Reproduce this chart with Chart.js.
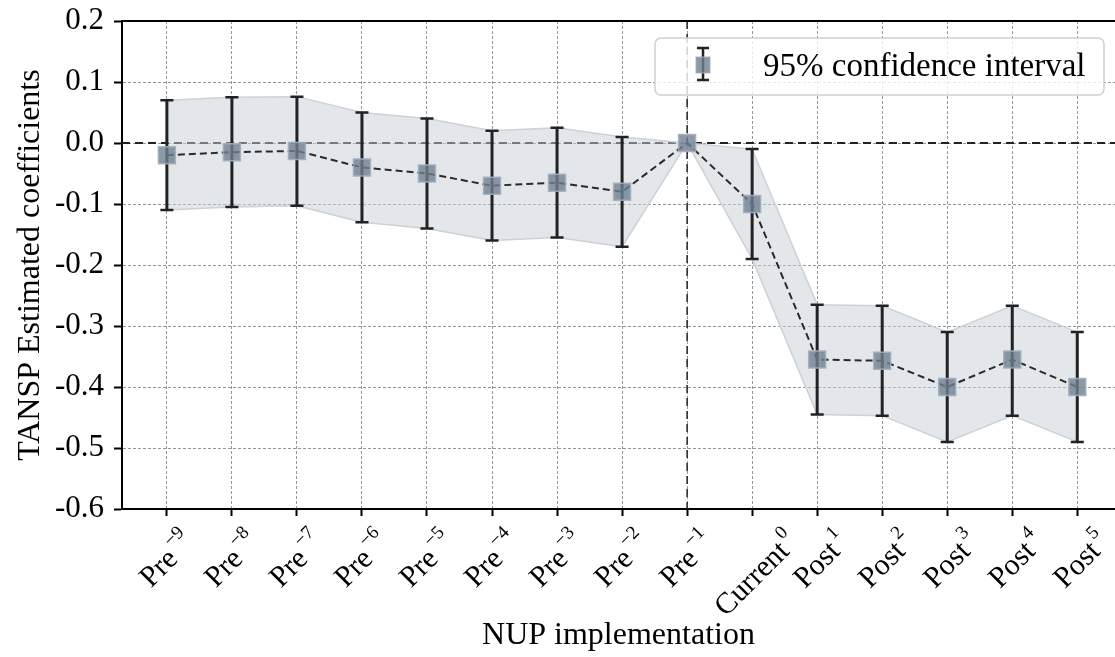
<!DOCTYPE html>
<html>
<head>
<meta charset="utf-8">
<script src="https://cdn.jsdelivr.net/npm/chart.js@4"></script>
<style>
  body { margin: 0; background: #fff; }
  #wrap { width: 1115px; height: 657px; position: relative; }
</style>
</head>
<body>
<div id="wrap"><canvas id="chart"></canvas></div>
<script>
// category labels (main text + superscript)
const labelMain = ['Pre', 'Pre', 'Pre', 'Pre', 'Pre', 'Pre', 'Pre', 'Pre', 'Pre', 'Current', 'Post', 'Post', 'Post', 'Post', 'Post'];
const labelSup = ['\u22129', '\u22128', '\u22127', '\u22126', '\u22125', '\u22124', '\u22123', '\u22122', '\u22121', '0', '1', '2', '3', '4', '5'];

// estimated coefficients and 95% CI bounds
const coef = [-0.020, -0.015, -0.013, -0.040, -0.050, -0.070, -0.065, -0.080, 0.000, -0.100, -0.355, -0.357, -0.400, -0.355, -0.400];
const ciUpper = [0.070, 0.075, 0.076, 0.050, 0.040, 0.020, 0.025, 0.010, 0.000, -0.010, -0.265, -0.267, -0.310, -0.267, -0.310];
const ciLower = [-0.110, -0.105, -0.103, -0.130, -0.140, -0.160, -0.155, -0.170, 0.000, -0.190, -0.445, -0.447, -0.490, -0.447, -0.490];

const yTicks = [-0.6, -0.5, -0.4, -0.3, -0.2, -0.1, 0.0, 0.1, 0.2];
const refIndex = 8; // Pre -1, the vertical reference line
const legendText = '95% confidence interval';

const FONT = '"Liberation Serif", "Times New Roman", serif';

const pts = arr => arr.map((v, i) => ({ x: i, y: v }));

// error bars drawn just before the mean line so markers sit on top
const errorBars = {
  id: 'errorBars',
  beforeDatasetDraw(chart, args) {
    if (args.index !== 2) return;
    const ctx = chart.ctx, xs = chart.scales.x, ys = chart.scales.y;
    ctx.save();
    ctx.strokeStyle = '#222';
    coef.forEach((c, i) => {
      if (ciUpper[i] === ciLower[i]) return;
      const x = xs.getPixelForValue(i);
      const y1 = ys.getPixelForValue(ciUpper[i]);
      const y2 = ys.getPixelForValue(ciLower[i]);
      ctx.lineWidth = 3;
      ctx.beginPath(); ctx.moveTo(x, y1); ctx.lineTo(x, y2); ctx.stroke();
      ctx.lineWidth = 2.5;
      ctx.beginPath();
      ctx.moveTo(x - 6.5, y1); ctx.lineTo(x + 6.5, y1);
      ctx.moveTo(x - 6.5, y2); ctx.lineTo(x + 6.5, y2);
      ctx.stroke();
    });
    ctx.restore();
  }
};

// zero line, event line, top spine
const refLines = {
  id: 'refLines',
  beforeDatasetsDraw(chart) {
    const ctx = chart.ctx, a = chart.chartArea;
    const y0 = chart.scales.y.getPixelForValue(0);
    const xr = chart.scales.x.getPixelForValue(refIndex);
    ctx.save();
    ctx.strokeStyle = '#222';
    ctx.lineWidth = 1.8;
    ctx.setLineDash([8, 5]);
    ctx.beginPath(); ctx.moveTo(a.left, y0); ctx.lineTo(a.right, y0); ctx.stroke();
    ctx.lineWidth = 1.5;
    ctx.beginPath(); ctx.moveTo(xr, a.top); ctx.lineTo(xr, a.bottom); ctx.stroke();
    ctx.setLineDash([]);
    ctx.strokeStyle = '#000';
    ctx.lineWidth = 2;
    ctx.beginPath(); ctx.moveTo(a.left, a.top); ctx.lineTo(a.right, a.top); ctx.stroke();
    ctx.restore();
  }
};

// rotated tick labels with superscripts + legend box
const extras = {
  id: 'extras',
  afterDraw(chart) {
    const ctx = chart.ctx, xs = chart.scales.x, a = chart.chartArea;
    const c = Math.SQRT1_2;
    ctx.save();
    ctx.fillStyle = '#000';
    labelMain.forEach((m, i) => {
      const sup = labelSup[i];
      ctx.font = '30px ' + FONT;
      const wm = ctx.measureText(m).width;
      ctx.font = '19px ' + FONT;
      const ws = ctx.measureText(sup).width;
      const g = 3, r = 15, hm = 20, hs = 13;
      const corners = [[0, 0], [0, -hm], [wm, 0], [wm, -hm],
        [wm + g, -r], [wm + g, -r - hs], [wm + g + ws, -r], [wm + g + ws, -r - hs]];
      let minX = Infinity, maxX = -Infinity, minY = Infinity;
      corners.forEach(([x, y]) => {
        const X = c * x + c * y, Y = -c * x + c * y;
        minX = Math.min(minX, X); maxX = Math.max(maxX, X); minY = Math.min(minY, Y);
      });
      const tx = xs.getPixelForValue(i);
      const dx = sup[0] === '\u2212' ? -6 : -1;
      const ox = tx + dx - (minX + maxX) / 2;
      const oy = a.bottom + 15 - minY;
      ctx.save();
      ctx.translate(ox, oy);
      ctx.rotate(-Math.PI / 4);
      ctx.textAlign = 'left';
      ctx.textBaseline = 'alphabetic';
      ctx.font = '30px ' + FONT;
      ctx.fillText(m, 0, 0);
      ctx.font = '19px ' + FONT;
      ctx.fillText(sup, wm + g, -r);
      ctx.restore();
    });

    // legend
    const lx = 655, ly = 38, lw = 449, lh = 57;
    ctx.beginPath();
    ctx.roundRect(lx, ly, lw, lh, 6);
    ctx.fillStyle = 'rgba(255,255,255,0.8)';
    ctx.fill();
    ctx.strokeStyle = '#cfcfcf';
    ctx.lineWidth = 1.5;
    ctx.stroke();
    const gx = 703, gy1 = 48, gy2 = 80;
    ctx.strokeStyle = '#222';
    ctx.lineWidth = 2.5;
    ctx.beginPath();
    ctx.moveTo(gx, gy1); ctx.lineTo(gx, gy2);
    ctx.moveTo(gx - 6, gy1); ctx.lineTo(gx + 6, gy1);
    ctx.moveTo(gx - 6, gy2); ctx.lineTo(gx + 6, gy2);
    ctx.stroke();
    ctx.fillStyle = 'rgba(112,128,144,0.8)';
    ctx.fillRect(gx - 7, 57, 14, 16);
    ctx.strokeStyle = 'rgba(160,175,190,0.9)';
    ctx.lineWidth = 1;
    ctx.strokeRect(gx - 7, 57, 14, 16);
    ctx.fillStyle = '#000';
    ctx.font = '33px ' + FONT;
    ctx.textAlign = 'left';
    ctx.textBaseline = 'middle';
    ctx.fillText(legendText, 763, 67);
    ctx.restore();
  }
};

const ctx = document.getElementById('chart');
new Chart(ctx, {
  type: 'line',
  data: {
    datasets: [
      {
        data: pts(ciLower),
        borderColor: '#cdd2d8',
        borderWidth: 1.5,
        pointRadius: 0,
        fill: false,
        order: 3
      },
      {
        data: pts(ciUpper),
        borderColor: '#cdd2d8',
        borderWidth: 1.5,
        pointRadius: 0,
        fill: '-1',
        backgroundColor: 'rgba(200,207,214,0.5)',
        order: 2
      },
      {
        data: pts(coef),
        borderColor: '#2a2a2a',
        borderWidth: 2,
        borderDash: [7, 4],
        pointStyle: 'rect',
        pointRadius: 12,
        pointBackgroundColor: 'rgba(112,128,144,0.8)',
        pointBorderColor: 'rgba(160,175,190,0.9)',
        pointBorderWidth: 1.5,
        fill: false,
        order: 1
      }
    ]
  },
  options: {
    responsive: true,
    maintainAspectRatio: false,
    animation: false,
    layout: { autoPadding: false, padding: { top: 21, right: 0, left: 0, bottom: 0 } },
    plugins: { legend: { display: false }, tooltip: { enabled: false } },
    scales: {
      x: {
        type: 'linear',
        min: -0.69,
        max: 14.58,
        afterBuildTicks: s => { s.ticks = labelMain.map((_, i) => ({ value: i })); },
        afterFit: s => { s.height = 148; },
        ticks: { display: false },
        grid: {
          color: 'rgba(100,118,136,0.75)',
          lineWidth: 1,
          drawTicks: true,
          tickLength: 7,
          tickColor: '#000',
          tickWidth: 2,
          tickBorderDash: []
        },
        border: { display: true, color: '#000', width: 2, dash: [3, 2] },
        title: {
          display: true,
          text: 'NUP implementation',
          color: '#000',
          font: { family: FONT, size: 32 },
          padding: { top: 0, bottom: 2 }
        }
      },
      y: {
        min: -0.6,
        max: 0.2,
        afterBuildTicks: s => { s.ticks = yTicks.map(v => ({ value: v })); },
        afterFit: s => { s.width = 122; s.paddingTop = 0; s.paddingBottom = 0; },
        ticks: {
          color: '#000',
          padding: 10,
          font: { family: FONT, size: 31 },
          callback: v => (Math.abs(v) < 1e-9 ? 0 : v).toFixed(1)
        },
        grid: {
          color: 'rgba(100,118,136,0.75)',
          lineWidth: 1,
          drawTicks: true,
          tickLength: 8,
          tickColor: '#000',
          tickWidth: 2,
          tickBorderDash: []
        },
        border: { display: true, color: '#000', width: 2, dash: [3, 2] },
        title: {
          display: true,
          text: 'TANSP Estimated coefficients',
          color: '#000',
          font: { family: FONT, size: 32 },
          padding: { top: 11, bottom: 0 }
        }
      }
    }
  },
  plugins: [refLines, errorBars, extras]
});
</script>
</body>
</html>
